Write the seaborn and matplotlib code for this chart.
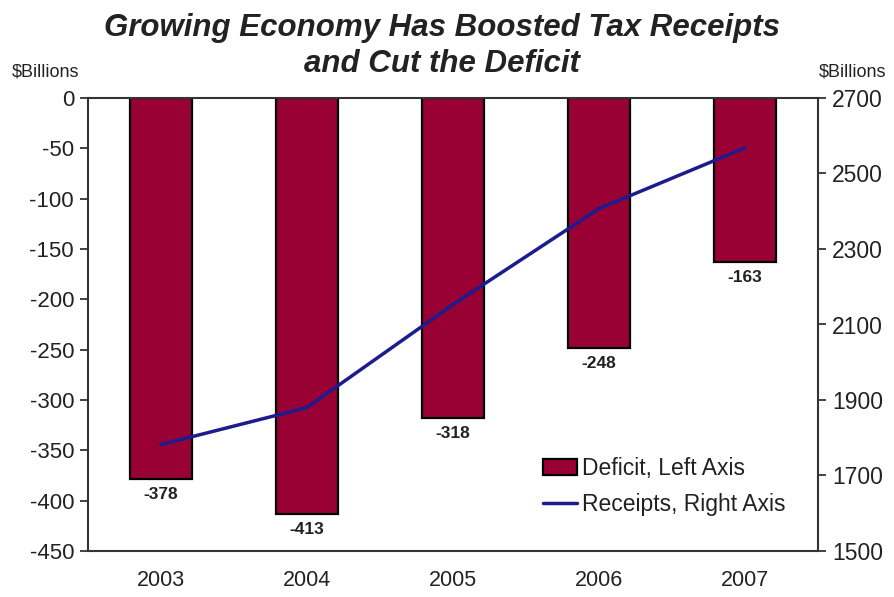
import numpy as np
import pandas as pd
import matplotlib
matplotlib.use("Agg")
import matplotlib.pyplot as plt
import seaborn as sns
from matplotlib.patches import Patch
from matplotlib.lines import Line2D

years = ["2003", "2004", "2005", "2006", "2007"]
deficit = [-378, -413, -318, -248, -163]
receipts = [1782, 1880, 2153, 2407, 2568]

left_ticks = [0, -50, -100, -150, -200, -250, -300, -350, -400, -450]
right_ticks = [2700, 2500, 2300, 2100, 1900, 1700, 1500]

bar_color = "#990033"
line_color = "#1c1c8f"
text_color = "#222222"
spine_color = "#333333"

sns.set_theme(style="white")
plt.rcParams["font.family"] = ["Liberation Sans", "DejaVu Sans"]
plt.rcParams["axes.unicode_minus"] = False

df = pd.DataFrame({"year": years, "deficit": deficit, "receipts": receipts})

fig = plt.figure(figsize=(8.94, 5.97), dpi=100)
ax = fig.add_axes([88 / 894, 1 - 551 / 597, 730 / 894, 453 / 597])

sns.barplot(data=df, x="year", y="deficit", ax=ax, color=bar_color,
            width=0.42, edgecolor="black", linewidth=1.6, saturation=1)
ax.set_xlim(-0.5, 4.5)
ax.set_ylim(-450, 0)
ax.set_yticks(left_ticks)
ax.set_xlabel("")
ax.set_ylabel("")

# value labels under each bar
for i, v in enumerate(df["deficit"]):
    ax.annotate(f"{v}", xy=(i, v), xytext=(0, -6), textcoords="offset points",
                ha="center", va="top", fontsize=12.5, fontweight="bold",
                color=text_color)

ax2 = ax.twinx()
sns.lineplot(x=np.arange(len(years)), y=df["receipts"], ax=ax2,
             color=line_color, linewidth=2.5)
ax2.set_ylim(1500, 2700)
ax2.set_yticks(right_ticks)
ax2.set_ylabel("")
ax2.set_xlim(-0.5, 4.5)

for a in (ax, ax2):
    for s in a.spines.values():
        s.set_color(spine_color)
        s.set_linewidth(1.5)
ax.spines["right"].set_visible(False)
ax2.spines["left"].set_visible(False)
ax2.spines["bottom"].set_visible(False)
ax2.spines["top"].set_visible(False)

ax.tick_params(axis="y", which="major", direction="out", length=6, width=1.3,
               color=spine_color, labelsize=16, labelcolor=text_color, pad=4, left=True)
ax.tick_params(axis="x", length=0, labelsize=15.5, labelcolor=text_color, pad=14)
ax2.tick_params(axis="y", which="major", direction="out", length=6, width=1.3,
                color=spine_color, labelsize=16.5, labelcolor=text_color, pad=4, right=True)

title_kw = dict(ha="center", va="center", fontsize=22.5, fontweight="bold",
                fontstyle="italic", color=text_color)
fig.text(442 / 894, 1 - 28 / 597, "Growing Economy Has Boosted Tax Receipts", **title_kw)
fig.text(442 / 894, 1 - 64 / 597, "and Cut the Deficit", **title_kw)
fig.text(12 / 894, 1 - 72 / 597, "$Billions", ha="left", va="center",
         fontsize=13, color=text_color)
fig.text(886 / 894, 1 - 72 / 597, "$Billions", ha="right", va="center",
         fontsize=13, color=text_color)

handles = [Patch(facecolor=bar_color, edgecolor="black", linewidth=1.6),
           Line2D([0], [0], color=line_color, linewidth=2.5)]
fig.legend(handles, ["Deficit, Left Axis", "Receipts, Right Axis"],
           loc="upper left", bbox_to_anchor=(522 / 894, 1 - 436 / 597),
           frameon=False, fontsize=16.5, handlelength=1.5, handletextpad=0.2,
           labelspacing=0.6, labelcolor=text_color)

fig.savefig("out.png", dpi=100)
